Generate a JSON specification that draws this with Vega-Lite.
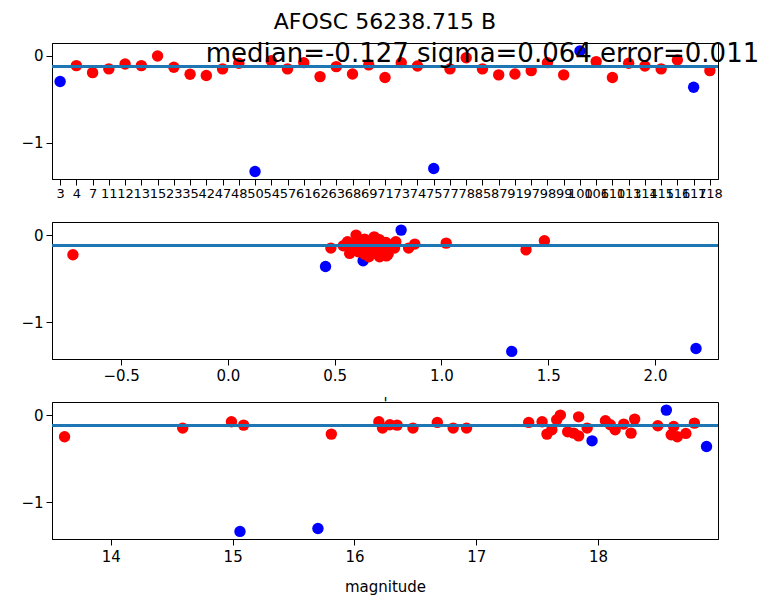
{
  "$schema": "https://vega.github.io/schema/vega-lite/v6.json",
  "padding": {"left": 20, "top": 10, "right": 0, "bottom": 5},
  "bounds": "flush",
  "spacing": 43,
  "config": {
    "view": {"stroke": "black", "strokeWidth": 1},
    "font": "DejaVu Sans",
    "axis": {"domainColor": "black", "tickColor": "black", "labelColor": "black", "grid": false, "tickSize": 6, "labelFontSize": 15, "labelPadding": 3, "labelFont": "DejaVu Sans", "titleFont": "DejaVu Sans", "titleFontWeight": "normal", "titleFontSize": 15, "titleColor": "black"}
  },
  "data": {"values": [
    {"id": 3, "delta": -0.295, "color": 0.633, "mag": 17.95, "status": "rejected"},
    {"id": 4, "delta": -0.111, "color": 0.58, "mag": 16.29, "status": "ok"},
    {"id": 7, "delta": -0.192, "color": 0.61, "mag": 17.75, "status": "ok"},
    {"id": 11, "delta": -0.149, "color": 0.482, "mag": 16.23, "status": "ok"},
    {"id": 12, "delta": -0.092, "color": 1.022, "mag": 18.79, "status": "ok"},
    {"id": 13, "delta": -0.111, "color": 0.68, "mag": 18.10, "status": "ok"},
    {"id": 15, "delta": 0.0, "color": 0.60, "mag": 17.69, "status": "ok"},
    {"id": 23, "delta": -0.13, "color": 0.65, "mag": 18.62, "status": "ok"},
    {"id": 35, "delta": -0.21, "color": 0.57, "mag": 18.72, "status": "ok"},
    {"id": 42, "delta": -0.226, "color": -0.726, "mag": 18.60, "status": "ok"},
    {"id": 47, "delta": -0.149, "color": 0.846, "mag": 16.48, "status": "ok"},
    {"id": 48, "delta": -0.084, "color": 0.74, "mag": 16.68, "status": "ok"},
    {"id": 50, "delta": -1.333, "color": 1.329, "mag": 15.06, "status": "rejected"},
    {"id": 54, "delta": -0.054, "color": 0.71, "mag": 17.66, "status": "ok"},
    {"id": 57, "delta": -0.149, "color": 0.60, "mag": 16.81, "status": "ok"},
    {"id": 61, "delta": -0.077, "color": 0.786, "mag": 14.99, "status": "ok"},
    {"id": 62, "delta": -0.238, "color": 0.742, "mag": 17.84, "status": "ok"},
    {"id": 63, "delta": -0.123, "color": 0.54, "mag": 18.49, "status": "ok"},
    {"id": 68, "delta": -0.207, "color": 0.69, "mag": 17.80, "status": "ok"},
    {"id": 69, "delta": -0.103, "color": 0.875, "mag": 18.21, "status": "ok"},
    {"id": 71, "delta": -0.249, "color": 0.66, "mag": 13.62, "status": "ok"},
    {"id": 73, "delta": -0.077, "color": 0.56, "mag": 17.54, "status": "ok"},
    {"id": 74, "delta": -0.115, "color": 0.72, "mag": 16.35, "status": "ok"},
    {"id": 75, "delta": -1.299, "color": 2.192, "mag": 15.70, "status": "rejected"},
    {"id": 77, "delta": -0.149, "color": 0.70, "mag": 16.92, "status": "ok"},
    {"id": 78, "delta": -0.02, "color": 0.685, "mag": 17.84, "status": "ok"},
    {"id": 85, "delta": -0.149, "color": 0.78, "mag": 14.59, "status": "ok"},
    {"id": 87, "delta": -0.218, "color": 0.64, "mag": 15.81, "status": "ok"},
    {"id": 91, "delta": -0.207, "color": 0.73, "mag": 18.27, "status": "ok"},
    {"id": 97, "delta": -0.169, "color": 1.396, "mag": 18.14, "status": "ok"},
    {"id": 98, "delta": -0.077, "color": 0.66, "mag": 16.20, "status": "ok"},
    {"id": 99, "delta": -0.218, "color": 0.75, "mag": 17.58, "status": "ok"},
    {"id": 100, "delta": 0.057, "color": 0.811, "mag": 18.56, "status": "rejected"},
    {"id": 106, "delta": -0.065, "color": 1.482, "mag": 18.06, "status": "ok"},
    {"id": 110, "delta": -0.249, "color": 0.71, "mag": 18.65, "status": "ok"},
    {"id": 113, "delta": -0.084, "color": 0.62, "mag": 17.43, "status": "ok"},
    {"id": 114, "delta": -0.115, "color": 0.76, "mag": 15.09, "status": "ok"},
    {"id": 115, "delta": -0.149, "color": 0.63, "mag": 17.91, "status": "ok"},
    {"id": 116, "delta": -0.046, "color": 0.64, "mag": 18.30, "status": "ok"},
    {"id": 117, "delta": -0.36, "color": 0.457, "mag": 18.89, "status": "rejected"},
    {"id": 118, "delta": -0.169, "color": 0.67, "mag": 17.62, "status": "ok"}
  ]},
  "vconcat": [
    {
      "width": 666, "height": 136,
      "title": {"text": "AFOSC 56238.715 B", "fontSize": 22, "fontWeight": "normal", "font": "DejaVu Sans", "offset": 7, "color": "black"},
      "layer": [
        {
          "mark": {"type": "point", "filled": true, "size": 130, "opacity": 1},
          "encoding": {
            "x": {"field": "id", "type": "ordinal", "scale": {"type": "point", "padding": 0.5}, "axis": {"title": null, "labelAngle": 0, "labelFontSize": 13, "labelOverlap": false, "labelPadding": 2}},
            "y": {"field": "delta", "type": "quantitative", "scale": {"domain": [-1.42, 0.15], "nice": false, "zero": false}, "axis": {"title": null, "values": [0, -1], "format": "d", "labelExpr": "replace(datum.label, '-', '−')"}},
            "color": {"field": "status", "type": "nominal", "scale": {"domain": ["ok", "rejected"], "range": ["#ff0000", "#0000ff"]}, "legend": null}
          }
        },
        {"mark": {"type": "rule", "color": "#1f77b4", "strokeWidth": 2, "opacity": 0.8}, "encoding": {"y": {"datum": -0.12, "type": "quantitative"}}},
        {
          "data": {"values": [{"label": "median=-0.127 sigma=0.064 error=0.011"}]},
          "mark": {"type": "text", "fontSize": 26, "font": "DejaVu Sans", "color": "black", "align": "center", "baseline": "alphabetic"},
          "encoding": {"x": {"datum": 85, "type": "ordinal"}, "y": {"datum": -0.07, "type": "quantitative"}, "text": {"field": "label"}}
        }
      ]
    },
    {
      "width": 666, "height": 137,
      "layer": [
        {
          "mark": {"type": "point", "filled": true, "size": 130, "opacity": 1},
          "encoding": {
            "x": {"field": "color", "type": "quantitative", "scale": {"domain": [-0.824, 2.295], "nice": false, "zero": false}, "axis": {"title": "'", "titlePadding": 13, "values": [-0.5, 0, 0.5, 1, 1.5, 2], "format": ".1f", "labelExpr": "replace(datum.label, '-', '−')"}},
            "y": {"field": "delta", "type": "quantitative", "scale": {"domain": [-1.42, 0.15], "nice": false, "zero": false}, "axis": {"title": null, "values": [0, -1], "format": "d", "labelExpr": "replace(datum.label, '-', '−')"}},
            "color": {"field": "status", "type": "nominal", "scale": {"domain": ["ok", "rejected"], "range": ["#ff0000", "#0000ff"]}, "legend": null}
          }
        },
        {"mark": {"type": "rule", "color": "#1f77b4", "strokeWidth": 2, "opacity": 0.8}, "encoding": {"y": {"datum": -0.12, "type": "quantitative"}}}
      ]
    },
    {
      "width": 666, "height": 137,
      "layer": [
        {
          "mark": {"type": "point", "filled": true, "size": 130, "opacity": 1},
          "encoding": {
            "x": {"field": "mag", "type": "quantitative", "scale": {"domain": [13.517, 18.984], "nice": false, "zero": false}, "axis": {"title": "magnitude", "titlePadding": 15, "labelPadding": 4, "values": [14, 15, 16, 17, 18]}},
            "y": {"field": "delta", "type": "quantitative", "scale": {"domain": [-1.42, 0.15], "nice": false, "zero": false}, "axis": {"title": null, "values": [0, -1], "format": "d", "labelExpr": "replace(datum.label, '-', '−')"}},
            "color": {"field": "status", "type": "nominal", "scale": {"domain": ["ok", "rejected"], "range": ["#ff0000", "#0000ff"]}, "legend": null}
          }
        },
        {"mark": {"type": "rule", "color": "#1f77b4", "strokeWidth": 2, "opacity": 0.8}, "encoding": {"y": {"datum": -0.12, "type": "quantitative"}}}
      ]
    }
  ]
}
